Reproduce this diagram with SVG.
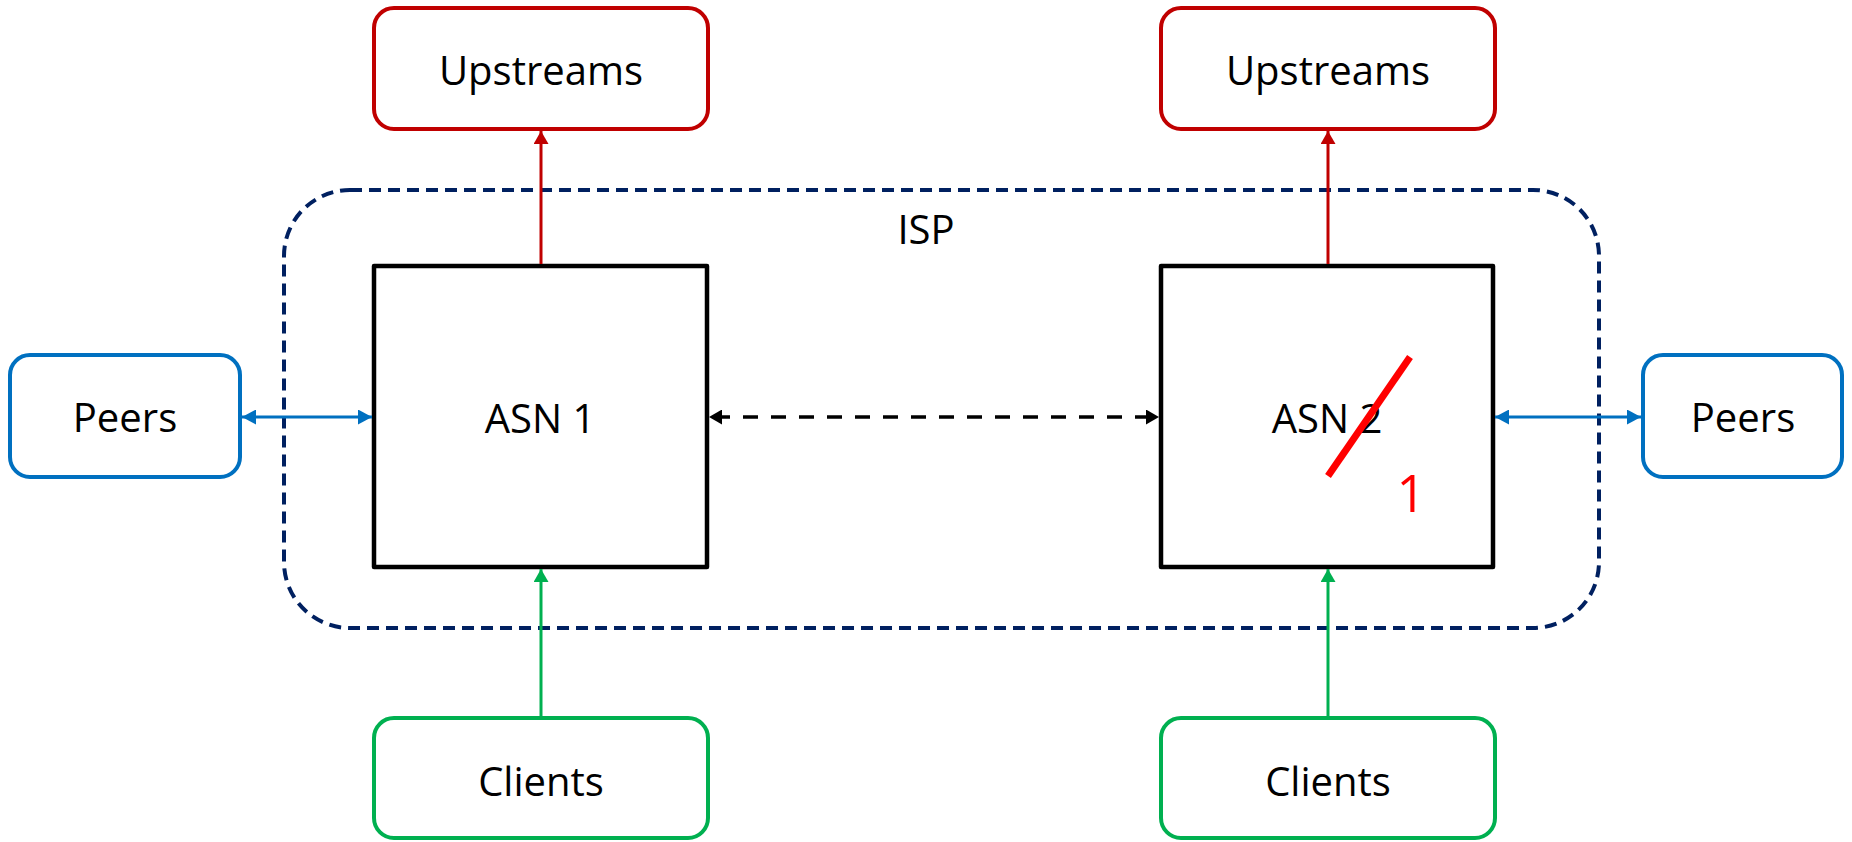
<svg xmlns="http://www.w3.org/2000/svg" width="1852" height="842" viewBox="0 0 1852 842">
<style>
  text { font-family: "Open Sans", "Noto Sans", sans-serif; font-size: 40px; fill: #000; text-anchor: middle; }
  .up { fill: #fff; stroke: #C00000; stroke-width: 4; }
  .peer { fill: #fff; stroke: #0070C0; stroke-width: 4; }
  .cli { fill: #fff; stroke: #00B050; stroke-width: 4; }
  .asn { fill: #fff; stroke: #000; stroke-width: 4.5; stroke-linejoin: round; }
  .isp { fill: none; stroke: #002060; stroke-width: 4; stroke-dasharray: 12 7; }
</style>
<defs>
  <marker id="aRed" viewBox="0 0 10 10" refX="10" refY="5" markerWidth="13" markerHeight="15" markerUnits="userSpaceOnUse" orient="auto-start-reverse" preserveAspectRatio="none"><path d="M0,0 L10,5 L0,10 z" fill="#C00000"/></marker>
  <marker id="aGreen" viewBox="0 0 10 10" refX="10" refY="5" markerWidth="13" markerHeight="15" markerUnits="userSpaceOnUse" orient="auto-start-reverse" preserveAspectRatio="none"><path d="M0,0 L10,5 L0,10 z" fill="#00B050"/></marker>
  <marker id="aBlue" viewBox="0 0 10 10" refX="10" refY="5" markerWidth="14" markerHeight="15" markerUnits="userSpaceOnUse" orient="auto-start-reverse" preserveAspectRatio="none"><path d="M0,0 L10,5 L0,10 z" fill="#0070C0"/></marker>
  <marker id="aBlack" viewBox="0 0 10 10" refX="10" refY="5" markerWidth="13" markerHeight="15" markerUnits="userSpaceOnUse" orient="auto-start-reverse" preserveAspectRatio="none"><path d="M0,0 L10,5 L0,10 z" fill="#000"/></marker>
</defs>
<rect width="1852" height="842" fill="#fff"/>

<g id="isp">
  <rect class="isp" x="284" y="190" width="1315" height="438" rx="66" ry="66"/>
  <text x="926" y="244">ISP</text>
</g>

<g id="asn1">
  <rect class="asn" x="374" y="266" width="333" height="301"/>
  <text x="540" y="433">ASN 1</text>
</g>

<g id="asn2">
  <rect class="asn" x="1161" y="266" width="332" height="301"/>
  <text x="1327" y="433">ASN 2</text>
  <line x1="1410" y1="357" x2="1328" y2="476" stroke="#FF0000" stroke-width="7"/>
  <text x="1411" y="512" style="fill:#FF0000;font-size:51px">1</text>
</g>

<g id="upstreams1">
  <rect class="up" x="374" y="8" width="334" height="121" rx="20" ry="20"/>
  <text x="541" y="85">Upstreams</text>
</g>
<g id="upstreams2">
  <rect class="up" x="1161" y="8" width="334" height="121" rx="20" ry="20"/>
  <text x="1328" y="85">Upstreams</text>
</g>

<g id="peers1">
  <rect class="peer" x="10" y="355" width="230" height="122" rx="20" ry="20"/>
  <text x="125" y="432">Peers</text>
</g>
<g id="peers2">
  <rect class="peer" x="1643" y="355" width="199" height="122" rx="20" ry="20"/>
  <text x="1743" y="432">Peers</text>
</g>

<g id="clients1">
  <rect class="cli" x="374" y="718" width="334" height="120" rx="20" ry="20"/>
  <text x="541" y="796">Clients</text>
</g>
<g id="clients2">
  <rect class="cli" x="1161" y="718" width="334" height="120" rx="20" ry="20"/>
  <text x="1328" y="796">Clients</text>
</g>

<g id="connectors" fill="none">
  <line x1="541" y1="264" x2="541" y2="131" stroke="#C00000" stroke-width="3" marker-end="url(#aRed)"/>
  <line x1="1328" y1="264" x2="1328" y2="131" stroke="#C00000" stroke-width="3" marker-end="url(#aRed)"/>
  <line x1="541" y1="716" x2="541" y2="569" stroke="#00B050" stroke-width="3" marker-end="url(#aGreen)"/>
  <line x1="1328" y1="716" x2="1328" y2="569" stroke="#00B050" stroke-width="3" marker-end="url(#aGreen)"/>
  <line x1="242" y1="417" x2="372" y2="417" stroke="#0070C0" stroke-width="3" marker-start="url(#aBlue)" marker-end="url(#aBlue)"/>
  <line x1="1495" y1="417" x2="1641" y2="417" stroke="#0070C0" stroke-width="3" marker-start="url(#aBlue)" marker-end="url(#aBlue)"/>
  <line x1="709" y1="417" x2="1159" y2="417" stroke="#000" stroke-width="3.5" stroke-dasharray="15 13" stroke-dashoffset="-6" marker-start="url(#aBlack)" marker-end="url(#aBlack)"/>
</g>
</svg>
